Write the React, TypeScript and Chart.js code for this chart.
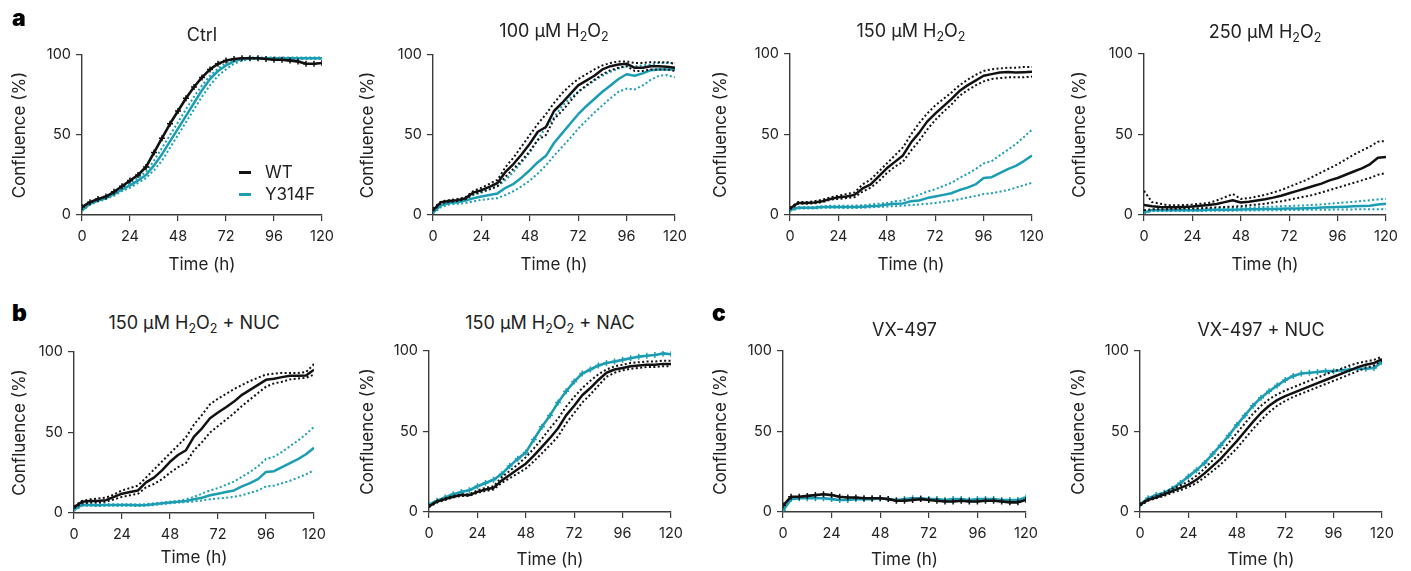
import React, { useEffect, useRef } from 'react';
import { Chart, registerables } from 'chart.js';
Chart.register(...registerables);

// ---------- data ----------
const TIME = [0, 4, 8, 12, 16, 20, 24, 28, 32, 36, 40, 44, 48, 52, 56, 60, 64, 68, 72, 76, 80, 84, 88, 92, 96, 100, 104, 108, 112, 116, 120];
const X_TICKS = [0, 24, 48, 72, 96, 120];
const Y_TICKS = [0, 50, 100];
const LEGEND_LABELS = ['WT', 'Y314F'];

// a: Ctrl
const ctrlWT = [5, 8, 10, 11.5, 14.5, 18, 21.5, 25, 30, 39, 48, 57, 65, 73, 80, 86, 91, 94.5, 96.5, 97.5, 98, 98, 98, 97.5, 97, 97, 96.5, 96, 94.5, 94.5, 95];
const ctrlY = [3, 7, 9, 10.5, 13, 16, 18.5, 21.5, 25, 31, 38, 46, 54, 62, 70, 78, 85, 90, 93.5, 96, 97.5, 98, 98, 98, 98, 98, 98, 98, 98, 98, 98];
const ctrlYUpper = [3.5, 7.5, 9.5, 11, 14, 17, 20, 23, 27, 34, 42, 50, 58, 66, 74, 81, 87, 91.5, 95, 97, 98, 98.5, 98.5, 98.5, 98.5, 98.5, 98.5, 98.5, 98.5, 98.5, 98.5];
const ctrlYLower = [2.5, 6.5, 8.5, 10, 12, 15, 17, 20, 23, 28, 34, 42, 50, 58, 66, 74, 81, 87, 91, 94.5, 96.5, 97.5, 97.5, 97.5, 97.5, 97.5, 97.5, 97.5, 97.5, 97.5, 97.5];

// a: 100 uM H2O2
const h100WT = [3, 8, 8.7, 9.3, 10.4, 14, 15.5, 17.6, 20, 27, 32, 38, 44.5, 52, 55, 65, 70, 75.5, 81, 84, 87, 91, 93, 94, 94.6, 92, 92, 93, 93, 92.7, 92];
const h100WTUpper = [4, 8.5, 9.3, 10, 11, 15, 17, 19.5, 22, 30, 36, 43, 50, 57, 63, 70, 76, 81, 85, 88, 91, 93.5, 95, 96, 96, 95, 95, 95.5, 95.5, 95.5, 94.5];
const h100WTLower = [2.5, 7.5, 8.2, 8.7, 9.8, 13, 14.5, 16, 18, 24, 29, 34, 40, 47, 50, 60, 65, 71, 77, 81, 84.5, 88, 90.5, 92, 93, 90, 90, 91, 91, 91, 90];
const h100Y = [1.5, 6, 7.5, 8, 9, 10.5, 11.5, 12.5, 13.5, 17, 19.5, 23.5, 28, 33, 37, 45, 51, 57, 63, 68, 72.5, 77, 81, 85, 88, 87, 88.5, 90.5, 91, 91, 91];
const h100YUpper = [2, 7, 8, 9, 10.5, 12.5, 14, 16, 18, 22, 27, 33, 39, 47, 55, 61, 68, 73, 77, 80.5, 84, 87, 89.5, 91.5, 93, 93, 93.5, 94, 95, 95, 95];
const h100YLower = [1, 5, 6.5, 7, 7.5, 8.5, 9.5, 10, 10.5, 12.5, 15, 18, 21.5, 26, 31, 37, 42.5, 48, 54, 59, 64, 68.5, 73, 77, 79, 78.5, 81, 84.5, 87, 87.5, 86];

// a: 150 uM H2O2
const h150WT = [4, 7.5, 7.5, 7.8, 8.5, 10, 11, 11.5, 12.5, 16.5, 19, 24, 29, 33, 37, 45, 51, 58, 63, 67.5, 72, 77, 80.5, 83.5, 86.5, 87.5, 88.5, 88.8, 88.5, 88.7, 89];
const h150WTUpper = [4.5, 8, 8, 8.5, 9.5, 11, 12, 13, 14, 19, 22, 27, 32, 37, 42, 50, 57, 63, 68, 72, 76, 80.5, 84, 87, 89.5, 90.5, 91, 91.5, 91.5, 92, 92];
const h150WTLower = [3.5, 7, 7, 7.2, 8, 9.5, 10, 10.5, 11, 14.5, 17, 21, 26, 30, 33, 40, 46, 53, 59, 64, 68.5, 74, 77.5, 80.5, 83, 84.5, 85, 85.5, 85.5, 85.5, 86];
const h150Y = [3, 4.5, 4.5, 4.5, 5, 5, 5, 5, 5, 5.2, 5.5, 5.8, 6.5, 7, 7.2, 8.5, 9, 10.5, 11.5, 12.5, 13.5, 15.5, 17, 19, 23, 23.5, 26, 28.5, 30.5, 33.5, 37];
const h150YUpper = [3.5, 5, 5, 5, 5.5, 5.8, 5.8, 5.8, 5.8, 6, 6.5, 7, 7.5, 8.5, 9, 11, 12.5, 14.5, 16, 18, 20, 23, 25.5, 28.5, 32, 33.5, 37, 40.5, 44, 48.5, 53];
const h150YLower = [2.5, 4, 4, 4, 4.5, 4.5, 4.5, 4.3, 4.3, 4.5, 4.8, 5, 5.3, 5.5, 5.8, 6.2, 6.5, 7, 7.5, 8.2, 8.8, 9.8, 10.8, 11.8, 13, 13.5, 14.5, 15.5, 17, 18.5, 20];

// a: 250 uM H2O2
const h250WT = [6.2, 5.5, 5, 4.8, 4.8, 5, 5.3, 5.8, 6.2, 6.8, 8, 9.2, 7.8, 8.2, 9, 9.8, 10.8, 12, 13.5, 15, 16.5, 18, 19.5, 21.5, 23, 25, 27, 29, 31.5, 35.5, 36];
const h250WTUpper = [15, 8, 7, 6, 6, 6.2, 6.5, 7, 7.5, 9, 11, 13, 10, 10.5, 11.5, 12.5, 14, 15.5, 17.5, 19.5, 21.5, 24, 26.5, 29, 31.5, 34.5, 37.5, 40, 42.5, 45.5, 46];
const h250WTLower = [3, 3.5, 3.5, 3.5, 3.8, 4, 4, 4.2, 4.5, 4.8, 5, 5.2, 5.5, 6, 6.5, 7, 7.8, 8.5, 9.5, 10.5, 11.5, 12.5, 14, 15.5, 17, 18.5, 20, 21.5, 23, 25, 26];
const h250Y = [1.5, 3, 3, 3, 3, 3, 3, 3, 3.2, 3.2, 3.3, 3.3, 3.4, 3.5, 3.6, 3.7, 3.8, 3.9, 4, 4.1, 4.2, 4.4, 4.6, 4.8, 5, 5.2, 5.4, 5.6, 5.8, 6.5, 7];
const h250YUpper = [2, 3.5, 3.5, 3.6, 3.6, 3.7, 3.8, 3.9, 4, 4.1, 4.2, 4.3, 4.4, 4.6, 4.8, 5, 5.2, 5.4, 5.6, 5.8, 6, 6.3, 6.6, 7, 7.4, 7.8, 8.2, 8.7, 9.2, 9.7, 10];
const h250YLower = [1, 2.5, 2.5, 2.5, 2.5, 2.5, 2.5, 2.5, 2.6, 2.6, 2.7, 2.7, 2.8, 2.8, 2.9, 2.9, 3, 3, 3.1, 3.1, 3.2, 3.2, 3.3, 3.3, 3.4, 3.4, 3.5, 3.5, 3.6, 3.6, 3.7];

// b: 150 uM H2O2 + NUC
const nucWT = [3.5, 7, 7.5, 7.5, 8, 10, 12, 13, 14, 19, 22, 26.5, 31.8, 36, 39, 47.4, 52.6, 58.8, 62.4, 65.7, 69.2, 73.4, 76.5, 79.6, 82.7, 83.4, 84.4, 85.2, 85.2, 85.4, 89];
const nucWTUpper = [4, 7.5, 8.5, 9, 9.5, 11.5, 14, 15.5, 17, 22, 27, 32, 37, 42, 47, 55, 61, 67.5, 71, 74, 77, 79.5, 82, 84, 86, 86.5, 87, 87, 87, 87.5, 92.5];
const nucWTLower = [3, 6, 6.5, 6.5, 7, 8.5, 10, 11, 12, 16, 18, 21, 25, 28.5, 31, 39, 44, 50, 54, 58, 62, 66.5, 70.5, 74.5, 78.5, 80.5, 81.5, 83, 83.5, 84, 86];
const nucY = [2, 5, 5, 4.8, 5, 5, 5, 5, 4.8, 5, 5.5, 6, 6.5, 7, 7.5, 8.5, 9.5, 11, 12, 13, 14, 16.5, 18.5, 21, 25.5, 26, 28.5, 31, 33.5, 36.5, 40.5];
const nucYUpper = [2.5, 5.5, 5.5, 5.5, 5.5, 5.5, 5.5, 5.5, 5.3, 5.5, 6, 6.5, 7, 7.5, 8.5, 10, 12, 14, 15.5, 17.5, 19.5, 22.5, 25.5, 29, 33.5, 35, 38, 41.5, 45, 49, 53.5];
const nucYLower = [1.5, 4.5, 4.5, 4.3, 4.5, 4.5, 4.5, 4.5, 4.3, 4.5, 5, 5.5, 6, 6.5, 6.8, 7.2, 7.8, 8.5, 9, 9.5, 10, 11, 12.5, 14, 16.5, 17, 18.5, 20, 22, 24, 26.5];

// b: 150 uM H2O2 + NAC
const nacY = [4.5, 7, 9, 11, 12.5, 13.5, 16, 18, 20, 23.5, 28.5, 33, 37, 45, 53, 60, 68, 75, 81, 86, 88.5, 91, 92.5, 93.5, 94.5, 95.5, 96.5, 97, 97.5, 98.5, 98];
const nacWT = [3.5, 6.5, 8, 9.5, 10.5, 10.5, 12.5, 14, 15, 19.5, 23, 26.5, 30, 35, 40.5, 46, 52, 60, 66, 72.5, 77, 82, 86.5, 88.5, 89.5, 90.5, 91, 91.5, 91.5, 92, 92];
const nacWTUpper = [4, 7, 8.5, 10, 11, 11, 13.5, 15, 16, 21.5, 25.5, 29.5, 34, 39.5, 45.5, 52, 58, 65.5, 71.5, 77, 81.5, 85.5, 88.5, 90.5, 91.5, 92.5, 93, 93.5, 93.5, 94, 94];
const nacWTLower = [3, 6, 7.5, 9, 10, 10, 12, 13, 14, 18, 21, 24, 27, 31.5, 36.5, 41.5, 47, 55, 61.5, 68, 73, 78.5, 84, 86.5, 88, 89, 89.5, 90, 90, 90.5, 90.5];

// c: VX-497
const vxWT = [4, 9.5, 9.5, 10, 10.5, 11, 10.5, 9.5, 9, 9, 8.5, 8.5, 8.5, 8, 7, 7, 7.5, 8, 7.5, 7, 6.5, 6.5, 7, 6.5, 6.5, 7, 7, 6.5, 6, 6, 7.5];
const vxY = [1, 8, 8.5, 8.5, 8.5, 8.5, 8, 7.5, 7.5, 8, 8, 8, 8.5, 8, 7.5, 8, 8.5, 8.5, 8, 8, 7.5, 8, 8, 7.5, 8, 8, 8, 7.5, 7.5, 7.5, 9];

// c: VX-497 + NUC
const vxnY = [4.5, 8.5, 10.5, 12, 14.5, 18, 22, 26, 30.5, 36, 41.5, 47.5, 54, 60, 66, 71, 75, 78.5, 82, 84.5, 86, 86.5, 87, 87.5, 87.5, 88, 88.5, 89, 89, 89.5, 93];
const vxnWT = [4.5, 7.5, 9, 11, 13, 15, 17, 20, 24, 28.5, 33, 38.5, 44, 50, 56, 61.5, 66, 69.5, 72, 74, 76, 78, 80, 82, 84, 86, 88, 90, 91.5, 92.5, 95];
const vxnWTUpper = [5, 8, 10, 12, 14.5, 16.5, 19, 22.5, 27, 32, 37, 43, 49, 55, 61, 66, 70, 73, 75.5, 77.5, 79.5, 81.5, 83.5, 85.5, 87.5, 89, 91, 92.5, 93.5, 94.5, 96.5];
const vxnWTLower = [4, 7, 8.5, 10, 12, 13.5, 15.5, 18, 21.5, 25.5, 29.5, 34.5, 39.5, 45.5, 51.5, 57, 62, 66, 69, 71.5, 73.5, 75.5, 77.5, 79.5, 81.5, 83.5, 85.5, 87.5, 89.5, 91, 94];

// ---------- style ----------
const FONT = 'Inter, "Noto Sans", "Liberation Sans", sans-serif';
const BLACK = '#111111';
const TEAL = '#1b9db3';
const AXIS = '#3a3a3a';
const TEXT = '#222222';

type Kind = 'solid' | 'dot' | 'cross';
type Series = { values: number[]; color: string; kind: Kind };
type Geo = { x0: number; x1: number; yTop: number; yBottom: number; labelX: number; timeY: number; titleY: number };
type Spec = { title: React.ReactNode; geo: Geo; series: Series[] };

const S = (values: number[], color: string, kind: Kind): Series => ({ values, color, kind });
const sub = (t: string) => <span style={{ fontSize: 12.5, position: 'relative', top: 4 }}>{t}</span>;
const H2O2 = <>H{sub('2')}O{sub('2')}</>;

const PANELS: Spec[] = [
  {
    title: 'Ctrl',
    geo: { x0: 82, x1: 322, yTop: 55, yBottom: 215, labelX: 20, timeY: 264.5, titleY: 35.5 },
    series: [S(ctrlWT, BLACK, 'cross'), S(ctrlY, TEAL, 'solid'), S(ctrlYUpper, TEAL, 'dot'), S(ctrlYLower, TEAL, 'dot')],
  },
  {
    title: <>100 μM {H2O2}</>,
    geo: { x0: 433, x1: 675, yTop: 55, yBottom: 215, labelX: 368, timeY: 264.5, titleY: 31 },
    series: [S(h100WT, BLACK, 'solid'), S(h100WTUpper, BLACK, 'dot'), S(h100WTLower, BLACK, 'dot'), S(h100Y, TEAL, 'solid'), S(h100YUpper, TEAL, 'dot'), S(h100YLower, TEAL, 'dot')],
  },
  {
    title: <>150 μM {H2O2}</>,
    geo: { x0: 790, x1: 1032, yTop: 54, yBottom: 215, labelX: 721, timeY: 264.5, titleY: 31 },
    series: [S(h150WT, BLACK, 'solid'), S(h150WTUpper, BLACK, 'dot'), S(h150WTLower, BLACK, 'dot'), S(h150Y, TEAL, 'solid'), S(h150YUpper, TEAL, 'dot'), S(h150YLower, TEAL, 'dot')],
  },
  {
    title: <>250 μM {H2O2}</>,
    geo: { x0: 1144, x1: 1386, yTop: 54, yBottom: 215, labelX: 1080, timeY: 264.5, titleY: 32 },
    series: [S(h250WT, BLACK, 'solid'), S(h250WTUpper, BLACK, 'dot'), S(h250WTLower, BLACK, 'dot'), S(h250Y, TEAL, 'solid'), S(h250YUpper, TEAL, 'dot'), S(h250YLower, TEAL, 'dot')],
  },
  {
    title: <>150 μM {H2O2} + NUC</>,
    geo: { x0: 74, x1: 314, yTop: 352, yBottom: 513, labelX: 20, timeY: 558, titleY: 323 },
    series: [S(nucWT, BLACK, 'solid'), S(nucWTUpper, BLACK, 'dot'), S(nucWTLower, BLACK, 'dot'), S(nucY, TEAL, 'solid'), S(nucYUpper, TEAL, 'dot'), S(nucYLower, TEAL, 'dot')],
  },
  {
    title: <>150 μM {H2O2} + NAC</>,
    geo: { x0: 429, x1: 671, yTop: 351, yBottom: 512, labelX: 368, timeY: 560, titleY: 323 },
    series: [S(nacWT, BLACK, 'solid'), S(nacWTUpper, BLACK, 'dot'), S(nacWTLower, BLACK, 'dot'), S(nacY, TEAL, 'cross')],
  },
  {
    title: 'VX-497',
    geo: { x0: 783, x1: 1026, yTop: 351, yBottom: 512, labelX: 721, timeY: 560, titleY: 330 },
    series: [S(vxWT, BLACK, 'cross'), S(vxY, TEAL, 'cross')],
  },
  {
    title: 'VX-497 + NUC',
    geo: { x0: 1140, x1: 1382, yTop: 351, yBottom: 512, labelX: 1079, timeY: 560, titleY: 330 },
    series: [S(vxnWT, BLACK, 'solid'), S(vxnWTUpper, BLACK, 'dot'), S(vxnWTLower, BLACK, 'dot'), S(vxnY, TEAL, 'cross')],
  },
];

const PANEL_LETTERS = [
  { text: 'a', left: 12, top: 6 },
  { text: 'b', left: 12, top: 301 },
  { text: 'c', left: 712, top: 301 },
];

function toDataset(s: Series) {
  const base: any = {
    data: s.values.map((y, i) => ({ x: TIME[i], y })),
    borderColor: s.color,
    backgroundColor: s.color,
    fill: false,
    tension: 0,
    borderJoinStyle: 'round',
  };
  if (s.kind === 'dot') return { ...base, borderWidth: 2, borderDash: [2, 2.4], pointRadius: 0 };
  if (s.kind === 'cross')
    return { ...base, borderWidth: 2.6, pointRadius: 3, pointStyle: 'cross', pointBorderWidth: 1.5, pointBorderColor: s.color };
  return { ...base, borderWidth: 2.5, pointRadius: 0 };
}

function Panel({ spec }: { spec: Spec }) {
  const ref = useRef<HTMLCanvasElement>(null);
  const g = spec.geo;
  const left = Math.round(g.labelX - 10);
  const top = g.yTop - 14;
  const padRight = 28;
  const width = g.x1 + padRight - left;
  const height = Math.round(g.timeY + 10.2 - top);
  const yWidth = g.x0 - left;
  const xHeight = height - (g.yBottom - top);

  useEffect(() => {
    if (!ref.current) return;
    const tickFont = { family: FONT, size: 14.5 };
    const titleFont = { family: FONT, size: 17 };
    const chart = new Chart(ref.current, {
      type: 'line',
      data: { datasets: spec.series.map(toDataset) },
      options: {
        animation: false,
        responsive: false,
        events: [],
        layout: { padding: { left: 0, top: 14, right: padRight, bottom: 0 } },
        plugins: { legend: { display: false }, tooltip: { enabled: false } },
        scales: {
          x: {
            type: 'linear',
            min: 0,
            max: 120,
            afterBuildTicks: (s: any) => { s.ticks = X_TICKS.map((v) => ({ value: v })); },
            afterFit: (s: any) => { s.height = xHeight; },
            ticks: { font: tickFont, color: TEXT, padding: 7, maxRotation: 0, autoSkip: false },
            grid: { display: true, drawOnChartArea: false, drawTicks: true, tickLength: 6, color: AXIS, lineWidth: 1.2 },
            border: { display: true, color: AXIS, width: 1.4 },
            title: { display: true, text: 'Time (h)', font: titleFont, color: TEXT, padding: { top: 0, bottom: 0 } },
          },
          y: {
            type: 'linear',
            min: 0,
            max: 100,
            afterBuildTicks: (s: any) => { s.ticks = Y_TICKS.map((v) => ({ value: v })); },
            afterFit: (s: any) => { s.width = yWidth; },
            ticks: { font: tickFont, color: TEXT, padding: 5 },
            grid: { display: true, drawOnChartArea: false, drawTicks: true, tickLength: 6, color: AXIS, lineWidth: 1.2 },
            border: { display: true, color: AXIS, width: 1.4 },
            title: { display: true, text: 'Confluence (%)', font: titleFont, color: TEXT, padding: { top: 0, bottom: 0 } },
          },
        },
      } as any,
    });
    return () => chart.destroy();
  }, []);

  return (
    <>
      <canvas
        ref={ref}
        width={width}
        height={height}
        style={{ position: 'absolute', left, top, width, height }}
      />
      <div
        style={{
          position: 'absolute',
          left: g.x0 - 60,
          width: g.x1 - g.x0 + 120,
          top: g.titleY - 10.5,
          height: 20,
          lineHeight: '20px',
          textAlign: 'center',
          fontFamily: FONT,
          fontSize: 18,
          color: TEXT,
          whiteSpace: 'nowrap',
        }}
      >
        {spec.title}
      </div>
    </>
  );
}

export default function App() {
  return (
    <div style={{ position: 'absolute', left: 0, top: 0, width: 1411, height: 571, background: '#fff', overflow: 'hidden' }}>
      {PANELS.map((p, i) => (
        <Panel key={i} spec={p} />
      ))}
      {PANEL_LETTERS.map((l) => (
        <div
          key={l.text}
          style={{ position: 'absolute', left: l.left, top: l.top, fontFamily: FONT, fontWeight: 900, fontSize: 23, lineHeight: '24px', color: '#000' }}
        >
          {l.text}
        </div>
      ))}
      {/* legend of the Ctrl panel */}
      {LEGEND_LABELS.map((label, i) => (
        <React.Fragment key={label}>
          <div style={{ position: 'absolute', left: 239, top: 170.5 + i * 22, width: 12, height: 3, background: i === 0 ? BLACK : TEAL }} />
          <div style={{ position: 'absolute', left: 265, top: 162 + i * 22, height: 20, lineHeight: '20px', fontFamily: FONT, fontSize: 17, color: TEXT }}>
            {label}
          </div>
        </React.Fragment>
      ))}
    </div>
  );
}
